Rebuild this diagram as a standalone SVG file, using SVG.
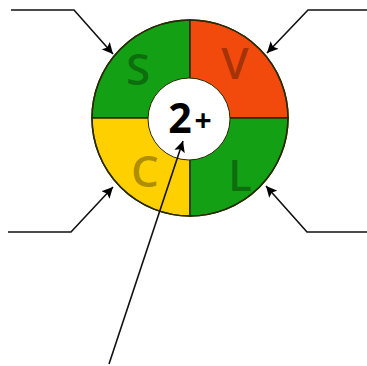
<svg xmlns="http://www.w3.org/2000/svg" width="367" height="366" viewBox="0 0 367 366">
<defs>
<marker id="ah" viewBox="0 0 10 10" refX="10" refY="5" markerWidth="11" markerHeight="11" markerUnits="userSpaceOnUse" orient="auto">
<path d="M0,0 L10,5 L0,10 L2,5 Z" fill="#000"/>
</marker>
</defs>
<style>
.seg{stroke:#2a2a00;stroke-width:1.5}
.lt{font-family:"Open Sans","Liberation Sans",sans-serif;font-size:44px;font-weight:600;fill:#000;fill-opacity:0.32;text-anchor:middle}
.cn{fill:none;stroke:#111;stroke-width:1.6}
</style>
<g id="ring">
<path class="seg" fill="#14a014" d="M190,118 L92,118 A98,98 0 0 1 190,20 Z"/>
<path class="seg" fill="#f24a0c" d="M190,118 L190,20 A98,98 0 0 1 288,118 Z"/>
<path class="seg" fill="#ffd000" d="M190,118 L190,216 A98,98 0 0 1 92,118 Z"/>
<path class="seg" fill="#14a014" d="M190,118 L288,118 A98,98 0 0 1 190,216 Z"/>
<circle cx="190" cy="118" r="98" fill="none" stroke="#2a2a00" stroke-width="1.5"/>
<circle cx="189" cy="119" r="41" fill="#fff" stroke="#2a2a00" stroke-width="1"/>
</g>
<g id="S"><text class="lt" x="138" y="85">S</text></g>
<g id="V"><text class="lt" x="235" y="79">V</text></g>
<g id="C"><text class="lt" x="145" y="187">C</text></g>
<g id="L"><text class="lt" x="240" y="191">L</text></g>
<g id="center"><text x="180" y="133" font-family="'Open Sans','Liberation Sans',sans-serif" font-size="41" font-weight="bold" fill="#000" text-anchor="middle">2</text><text x="203" y="131" font-family="'Open Sans','Liberation Sans',sans-serif" font-size="30" font-weight="bold" fill="#000" text-anchor="middle">+</text></g>
<g id="connectors">
<polyline class="cn" points="11,10 74,10 113,54" marker-end="url(#ah)"/>
<polyline class="cn" points="367,10 308,10 267,53" marker-end="url(#ah)"/>
<polyline class="cn" points="8,232 71,232 113,187" marker-end="url(#ah)"/>
<polyline class="cn" points="367,232 307,232 266,186" marker-end="url(#ah)"/>
<line class="cn" x1="109" y1="364" x2="183" y2="141" marker-end="url(#ah)"/>
</g>
</svg>
